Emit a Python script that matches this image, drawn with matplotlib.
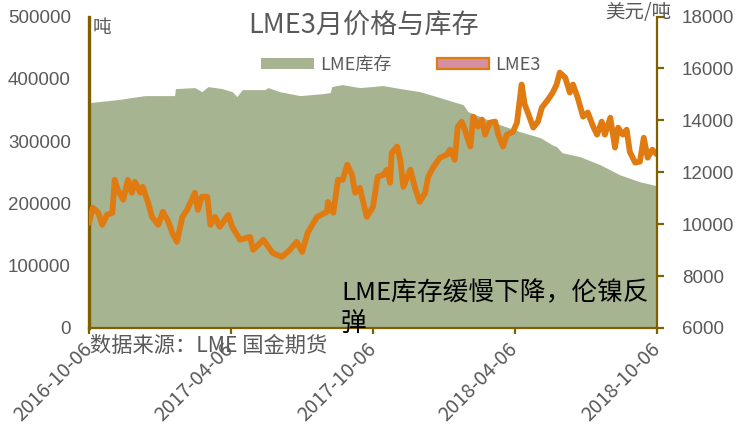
import matplotlib
matplotlib.use('Agg')
import matplotlib.pyplot as plt
from matplotlib.patches import Patch
import pandas as pd

# ---------------- data ----------------
start_date = '2016-10-06'
end_date = '2018-10-06'

inv_days = [0, 37, 72, 110, 111, 136, 145, 153, 171, 184,
            190, 197, 226, 230, 245, 271, 301, 310, 312, 325,
            348, 378, 400, 425, 447, 468, 481, 487, 503, 528,
            554, 580, 595, 601, 608, 631, 657, 682, 708, 730]
inv_tons = [361700, 366600, 373000, 373000, 384300, 385900, 379400, 387500, 384300, 379400,
            371400, 382600, 382600, 385900, 379400, 373000, 376200, 378000, 387500, 390700,
            385900, 389100, 384300, 379400, 371400, 363300, 358500, 347300, 339200, 326400,
            315100, 305500, 294200, 291000, 281400, 275000, 262100, 246000, 234700, 228300]

price_days = [0, 5, 12, 17, 23, 30, 33, 37, 44, 50, 55, 59, 66, 69, 76, 81, 89, 95, 102, 107,
              113, 120, 126, 136, 140, 145, 152, 156, 162, 168, 179, 184, 194, 207, 211, 224,
              236, 248, 258, 267, 274, 281, 293, 306, 307, 314, 320, 326, 332, 338, 342, 348,
              357, 365, 371, 378, 383, 387, 389, 396, 400, 404, 413, 419, 425, 432, 436, 442,
              451, 460, 464, 470, 474, 479, 483, 490, 494, 500, 505, 509, 515, 522, 526, 532,
              537, 545, 550, 556, 560, 564, 571, 577, 582, 590, 596, 601, 605, 612, 618, 622,
              628, 635, 641, 648, 653, 659, 663, 670, 676, 680, 686, 691, 695, 702, 708, 713,
              718, 724, 730]
price_usd = [10050, 10630, 10440, 9975, 10360, 10440, 11710, 11325, 10940, 11710, 11210, 11630,
             11210, 11440, 10820, 10280, 9975, 10480, 10090, 9670,
             9320, 10280, 10550, 11210, 10550, 11055, 11055, 9975, 10280, 9900, 10360, 9900,
             9400, 9510, 9010, 9400,
             8890, 8740, 9010, 9320, 8930, 9670, 10280, 10480, 10860, 10440, 11710, 11710,
             12290, 11900, 11210, 11400,
             10280, 10670, 11830, 11900, 12100, 11600, 12750, 12990, 12480, 11440, 12100,
             11400, 10860, 11210, 11830, 12170,
             12560, 12680, 12870, 12480, 13760, 13950, 13640, 12990, 14140, 13760, 14030,
             13450, 13910, 13950, 13450, 12990,
             13450, 13560, 13910, 15380, 14610, 14300, 13720, 13950, 14490, 14800, 15070,
             15380, 15840, 15650, 15070, 15380,
             14880, 14140, 14300, 13760, 13450, 13950, 13450, 14100, 12950, 13720, 13450,
             13640, 12790, 12370, 12410, 13330,
             12560, 12870, 12680]

tick_dates = ['2016-10-06', '2017-04-06', '2017-10-06', '2018-04-06', '2018-10-06']
left_ticks = [0, 100000, 200000, 300000, 400000, 500000]
right_ticks = [6000, 8000, 10000, 12000, 14000, 16000, 18000]

series_names = ['LME库存', 'LME3']
title = 'LME3月价格与库存'
left_unit = '吨'
right_unit = '美元/吨'
source = '数据来源：LME 国金期货'
note_line1 = 'LME库存缓慢下降，伦镍反'
note_line2 = '弹'

# ---------------- style ----------------
GREEN = '#A6B492'
ORANGE = '#E07B12'
PINK = '#D4909F'
BROWN = '#7F6000'
GRAY = '#595959'

plt.rcParams['font.family'] = ['Noto Sans CJK SC', 'DejaVu Sans']

W, H = 736, 437
fig = plt.figure(figsize=(W / 100, H / 100), dpi=100)


def fx(px):
    return px / W


def fy(py):
    return 1 - py / H


ax_l, ax_r, ax_t, ax_b = 89, 657, 16.5, 328
ax = fig.add_axes([fx(ax_l), fy(ax_b), (ax_r - ax_l) / W, (ax_b - ax_t) / H])

start = pd.Timestamp(start_date)
inv_dates = start + pd.to_timedelta(inv_days, unit='D')
price_dates = start + pd.to_timedelta(price_days, unit='D')

ax.fill_between(inv_dates, inv_tons, 0, color=GREEN, lw=0)
ax.set_ylim(0, 500000)
ax.set_xlim(pd.Timestamp(start_date), pd.Timestamp(end_date))

ax2 = ax.twinx()
ax2.plot(price_dates, price_usd, color=ORANGE, lw=4.2,
         solid_joinstyle='round', solid_capstyle='round')
ax2.set_ylim(6000, 18000)

# spines
for s in ['top', 'right']:
    ax.spines[s].set_visible(False)
for s in ['top', 'left', 'bottom']:
    ax2.spines[s].set_visible(False)
ax.spines['left'].set_color(BROWN)
ax.spines['left'].set_linewidth(2.4)
ax.spines['bottom'].set_color(BROWN)
ax.spines['bottom'].set_linewidth(1.6)
ax2.spines['right'].set_color(BROWN)
ax2.spines['right'].set_linewidth(1.6)

# ticks
ax.set_yticks(left_ticks)
ax.set_yticklabels([str(v) for v in left_ticks], family='Liberation Sans')
ax.tick_params(axis='y', length=0, pad=13, labelsize=13.5, labelcolor=GRAY)

ax2.set_yticks(right_ticks)
ax2.set_yticklabels([str(v) for v in right_ticks], family='Liberation Sans')
ax2.tick_params(axis='y', length=5, width=1.6, color=BROWN, direction='out',
                pad=13, labelsize=13.5, labelcolor=GRAY)

ax.set_xticks(pd.to_datetime(tick_dates))
ax.set_xticklabels(tick_dates, rotation=45, ha='right', va='center',
                   rotation_mode='anchor')
ax.tick_params(axis='x', length=4, width=1.6, color=BROWN, direction='out',
               pad=9, labelsize=14.3, labelcolor=GRAY)

# legend
handles = [Patch(facecolor=GREEN, edgecolor='none', label=series_names[0]),
           Patch(facecolor=PINK, edgecolor=ORANGE, linewidth=1.6, label=series_names[1])]
fig.legend(handles=handles, loc='center', bbox_to_anchor=(fx(401), fy(65)),
           ncol=2, frameon=False, fontsize=13, handlelength=2.9, handleheight=0.5,
           handletextpad=0.35, columnspacing=2.5, labelcolor=GRAY)

# texts
fig.text(fx(364), fy(26), title, ha='center', va='center', fontsize=19.5, color=GRAY)
fig.text(fx(93), fy(27), left_unit, ha='left', va='center', fontsize=13.5, color=GRAY)
fig.text(fx(605), fy(12.5), right_unit, ha='left', va='center', fontsize=14, color=GRAY)
fig.text(fx(90), fy(346), source, ha='left', va='center', fontsize=15.3, color=GRAY)
fig.text(fx(341), fy(293), note_line1, ha='left', va='center', fontsize=18.5, color='black')
fig.text(fx(341), fy(325), note_line2, ha='left', va='center', fontsize=18.5, color='black')

fig.savefig('out.png', dpi=100)
